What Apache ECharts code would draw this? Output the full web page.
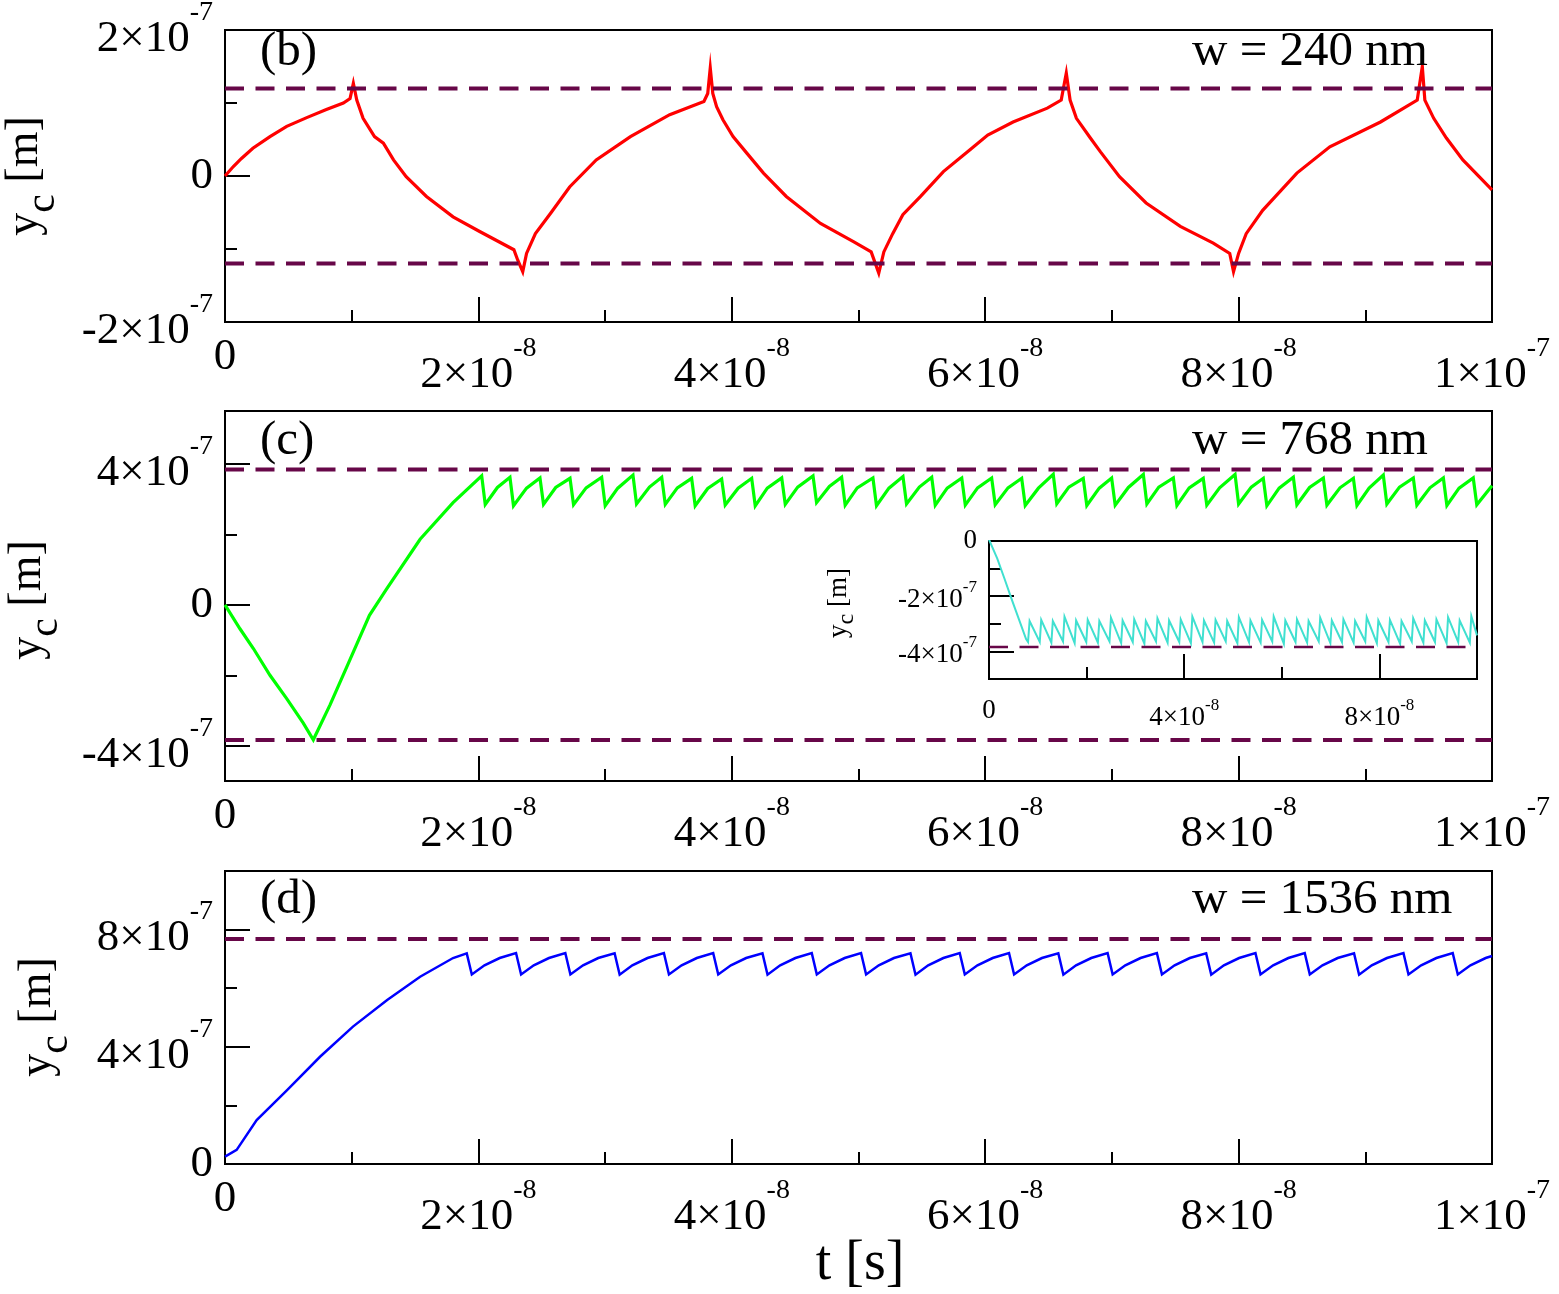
<!DOCTYPE html>
<html><head><meta charset="utf-8">
<script src="https://cdn.jsdelivr.net/npm/echarts@6/dist/echarts.min.js"></script>
<style>html,body{margin:0;padding:0;background:#fff}#c{width:1559px;height:1294px}</style>
</head><body><div id="c"></div>
<script>
// ---- units: time in 1e-8 s, position in 1e-7 m ----
const tRange = [0, 10];

// panel (b) w = 240 nm
const bData = [[0,0],[0.066,0.13],[0.13,0.24],[0.22,0.38],[0.355,0.54],[0.487,0.68],[0.645,0.80],[0.80,0.91],[0.934,1.0],[0.987,1.06],[1.013,1.27],[1.04,1.04],[1.09,0.79],[1.18,0.54],[1.25,0.45],[1.33,0.22],[1.43,-0.01],[1.59,-0.28],[1.80,-0.56],[2.01,-0.76],[2.28,-1.01],[2.31,-1.15],[2.35,-1.31],[2.38,-1.06],[2.45,-0.79],[2.57,-0.51],[2.72,-0.15],[2.93,0.22],[3.20,0.54],[3.51,0.84],[3.78,1.02],[3.81,1.13],[3.83,1.48],[3.85,1.13],[3.88,0.95],[3.93,0.77],[4.01,0.54],[4.12,0.31],[4.25,0.04],[4.43,-0.28],[4.70,-0.65],[4.96,-0.90],[5.10,-1.04],[5.16,-1.33],[5.20,-1.04],[5.27,-0.79],[5.35,-0.53],[5.49,-0.28],[5.67,0.06],[5.88,0.36],[6.02,0.56],[6.22,0.74],[6.49,0.93],[6.60,1.04],[6.64,1.41],[6.67,1.04],[6.72,0.79],[6.83,0.52],[6.91,0.33],[7.06,-0.01],[7.27,-0.37],[7.54,-0.69],[7.80,-0.92],[7.93,-1.06],[7.96,-1.31],[8.00,-1.06],[8.06,-0.79],[8.19,-0.47],[8.46,0.04],[8.72,0.40],[9.12,0.74],[9.41,1.04],[9.45,1.50],[9.47,1.04],[9.54,0.79],[9.64,0.52],[9.77,0.22],[10.0,-0.19]];
const bWalls = [1.2, -1.2];

// panel (c) w = 768 nm
const cData = [[0,0],[0.118,-0.68],[0.224,-1.24],[0.355,-2.0],[0.487,-2.66],[0.618,-3.36],[0.697,-3.83],[0.829,-2.84],[0.97,-1.69],[1.14,-0.30],[1.276,0.45],[1.54,1.86],[1.80,2.90],
[2.026,3.66],[2.054,2.85],[2.15,3.33],
[2.249,3.62],[2.277,2.81],[2.38,3.31],
[2.486,3.60],[2.514,2.85],[2.61,3.33],
[2.723,3.59],[2.751,2.84],[2.85,3.32],
[2.973,3.62],[3.001,2.81],[3.10,3.31],
[3.220,3.68],[3.248,2.86],[3.35,3.34],
[3.447,3.62],[3.475,2.85],[3.57,3.32],
[3.683,3.59],[3.711,2.81],[3.81,3.30],
[3.920,3.57],[3.948,2.83],[4.05,3.31],
[4.157,3.59],[4.185,2.81],[4.28,3.31],
[4.394,3.60],[4.422,2.85],[4.52,3.34],
[4.641,3.66],[4.669,2.90],[4.77,3.36],
[4.867,3.62],[4.895,2.83],[4.99,3.32],
[5.114,3.60],[5.142,2.81],[5.24,3.31],
[5.351,3.64],[5.379,2.86],[5.48,3.34],
[5.578,3.62],[5.606,2.83],[5.70,3.31],
[5.815,3.60],[5.843,2.83],[5.94,3.32],
[6.051,3.60],[6.079,2.84],[6.18,3.32],
[6.288,3.59],[6.316,2.82],[6.42,3.31],
[6.537,3.70],[6.565,2.87],[6.66,3.34],
[6.774,3.59],[6.802,2.82],[6.90,3.31],
[6.998,3.60],[7.026,2.83],[7.13,3.33],
[7.248,3.70],[7.276,2.86],[7.37,3.34],
[7.485,3.60],[7.513,2.82],[7.61,3.32],
[7.721,3.59],[7.749,2.83],[7.85,3.32],
[7.972,3.70],[8.000,2.86],[8.10,3.34],
[8.195,3.59],[8.223,2.81],[8.32,3.31],
[8.432,3.62],[8.460,2.84],[8.56,3.33],
[8.669,3.60],[8.697,2.83],[8.80,3.32],
[8.906,3.59],[8.934,2.82],[9.03,3.31],
[9.142,3.68],[9.170,2.86],[9.27,3.34],
[9.379,3.60],[9.407,2.83],[9.51,3.32],
[9.616,3.60],[9.644,2.82],[9.74,3.31],
[9.852,3.60],[9.880,2.84],[10.0,3.38]];
const cWalls = [3.84, -3.84];

// inset of panel (c)
const insetData = [[0,0.05],[0.168,-0.63],[0.316,-1.36],[0.46,-2.09],[0.61,-2.82],[0.76,-3.55],[0.80,-3.66],
[0.832,-2.90],[1.040,-3.66],[1.070,-2.86],[1.278,-3.68],[1.308,-2.90],[1.517,-3.64],[1.547,-2.74],[1.755,-3.70],
[1.785,-2.88],[1.993,-3.66],[2.023,-2.86],[2.231,-3.68],[2.261,-2.90],[2.469,-3.64],[2.499,-2.78],[2.708,-3.70],
[2.738,-2.88],[2.946,-3.66],[2.976,-2.84],[3.184,-3.72],[3.214,-2.90],[3.422,-3.64],[3.452,-2.80],[3.660,-3.68],
[3.690,-2.88],[3.899,-3.66],[3.929,-2.84],[4.137,-3.70],[4.167,-2.74],[4.375,-3.66],[4.405,-2.88],[4.613,-3.68],
[4.643,-2.86],[4.851,-3.64],[4.881,-2.90],[5.090,-3.70],[5.120,-2.76],[5.328,-3.66],[5.358,-2.88],[5.566,-3.68],
[5.596,-2.86],[5.804,-3.64],[5.834,-2.74],[6.042,-3.72],[6.072,-2.88],[6.281,-3.66],[6.311,-2.84],[6.519,-3.68],
[6.549,-2.90],[6.757,-3.64],[6.787,-2.78],[6.995,-3.70],[7.025,-2.88],[7.233,-3.66],[7.263,-2.84],[7.472,-3.68],
[7.502,-2.90],[7.710,-3.64],[7.740,-2.76],[7.948,-3.70],[7.978,-2.88],[8.186,-3.66],[8.216,-2.86],[8.424,-3.72],
[8.454,-2.90],[8.663,-3.64],[8.693,-2.80],[8.901,-3.68],[8.931,-2.88],[9.139,-3.66],[9.169,-2.84],[9.377,-3.70],
[9.407,-2.76],[9.615,-3.66],[9.645,-2.88],[9.853,-3.68],[9.883,-2.72],[10.0,-3.42]];
const insetWalls = [-3.84];

// panel (d) w = 1536 nm
const dData = [[0,0.25],[0.092,0.48],[0.25,1.5],[0.49,2.52],[0.75,3.66],[1.01,4.69],[1.28,5.6],[1.54,6.39],[1.80,7.03],
[1.908,7.19],[1.948,6.47],[2.048,6.78],[2.168,7.03],
[2.297,7.20],[2.337,6.47],[2.437,6.78],[2.557,7.03],
[2.686,7.20],[2.726,6.47],[2.826,6.78],[2.946,7.03],
[3.075,7.19],[3.115,6.46],[3.215,6.78],[3.335,7.03],
[3.464,7.20],[3.504,6.47],[3.604,6.78],[3.724,7.03],
[3.853,7.20],[3.893,6.47],[3.993,6.78],[4.113,7.03],
[4.242,7.19],[4.282,6.46],[4.382,6.78],[4.502,7.03],
[4.631,7.20],[4.671,6.47],[4.771,6.78],[4.891,7.03],
[5.020,7.20],[5.060,6.47],[5.160,6.78],[5.280,7.03],
[5.410,7.19],[5.450,6.46],[5.550,6.78],[5.670,7.03],
[5.799,7.20],[5.839,6.47],[5.939,6.78],[6.059,7.03],
[6.188,7.20],[6.228,6.47],[6.328,6.78],[6.448,7.03],
[6.577,7.19],[6.617,6.46],[6.717,6.78],[6.837,7.03],
[6.966,7.20],[7.006,6.47],[7.106,6.78],[7.226,7.03],
[7.355,7.20],[7.395,6.47],[7.495,6.78],[7.615,7.03],
[7.744,7.19],[7.784,6.46],[7.884,6.78],[8.004,7.03],
[8.133,7.20],[8.173,6.47],[8.273,6.78],[8.393,7.03],
[8.522,7.20],[8.562,6.47],[8.662,6.78],[8.782,7.03],
[8.911,7.19],[8.951,6.46],[9.051,6.78],[9.171,7.03],
[9.301,7.20],[9.341,6.47],[9.441,6.78],[9.561,7.03],
[9.690,7.20],[9.730,6.47],[9.830,6.78],[9.950,7.03],[10.0,7.10]];
const dWalls = [7.68];

// ticks and tick labels
const xMajor = [0, 2, 4, 6, 8, 10];
const xMinor = [1, 3, 5, 7, 9];
const xMant = ['0', '2×10', '4×10', '6×10', '8×10', '1×10'];
const xExp  = ['', '-8', '-8', '-8', '-8', '-7'];

const bYMajor = [-2, 0, 2], bYMinor = [-1, 1];
const bYMant = ['-2×10', '0', '2×10'], bYExp = ['-7', '', '-7'];
const cYMajor = [-4, 0, 4], cYMinor = [-2, 2];
const cYMant = ['-4×10', '0', '4×10'], cYExp = ['-7', '', '-7'];
const dYMajor = [0, 4, 8], dYMinor = [2, 6, 10];
const dYMant = ['0', '4×10', '8×10'], dYExp = ['', '-7', '-7'];

const inXMajor = [0, 4, 8], inXMinor = [2, 6];
const inXMant = ['0', '4×10', '8×10'], inXExp = ['', '-8', '-8'];
const inYMajor = [-4, -2, 0], inYMinor = [-3, -1];
const inYMant = ['-4×10', '-2×10', '0'], inYExp = ['-7', '-7', ''];

const yRanges = { b: [-2, 2], c: [-5, 5.5], d: [0, 10], inset: [-5, 0] };

const panelTags = ['(b)', '(c)', '(d)'];
const widthTexts = ['w = 240 nm', 'w = 768 nm', 'w = 1536 nm'];

// ---- styling ----
const FONT = '"Liberation Serif", "Times New Roman", Times, serif';
const WALL = 'rgb(103,7,72)';

function richSet(big, small, pad) {
  return {
    z: { fontSize: big, fontFamily: FONT, color: '#000' },
    m: { fontSize: big, fontFamily: FONT, color: '#000', padding: [pad, 0, 0, 0], verticalAlign: 'bottom' },
    e: { fontSize: small, fontFamily: FONT, color: '#000', verticalAlign: 'top' }
  };
}
const mainRich = richSet(45, 28, 18);
const insetRich = richSet(27, 17, 7);

function fmt(vals, mant, exp) {
  return function (v) {
    const i = vals.findIndex(x => Math.abs(x - v) < 1e-6);
    if (i < 0) return '';
    return exp[i] ? '{m|' + mant[i] + '}{e|' + exp[i] + '}' : '{z|' + mant[i] + '}';
  };
}

function axisPair(kind, grid, range, major, minor, mant, exp, rich, margin) {
  const base = {
    type: 'value', gridIndex: grid, min: range[0], max: range[1],
    position: kind === 'x' ? 'bottom' : 'left',
    axisLine: { show: false, onZero: false }, splitLine: { show: false }, minorTick: { show: false }
  };
  return [
    Object.assign({}, base, {
      axisTick: { show: true, inside: true, length: 25, customValues: major, lineStyle: { color: '#000', width: 2 } },
      axisLabel: { show: true, customValues: major, margin: margin, formatter: fmt(major, mant, exp), rich: rich, color: '#000', fontFamily: FONT, showMinLabel: true, showMaxLabel: true }
    }),
    Object.assign({}, base, {
      axisTick: { show: true, inside: true, length: 12, customValues: minor, lineStyle: { color: '#000', width: 2 } },
      axisLabel: { show: false }
    })
  ];
}

const grids = [
  { left: 225, top: 30, width: 1267, height: 292 },
  { left: 225, top: 411, width: 1267, height: 370 },
  { left: 225, top: 871, width: 1267, height: 293 },
  { left: 989, top: 541, width: 488, height: 138 }
].map(g => Object.assign(g, { show: true, borderColor: '#000', borderWidth: 2, backgroundColor: '#fff', containLabel: false, outerBoundsMode: 'none' }));

const xAxes = [].concat(
  axisPair('x', 0, tRange, xMajor, xMinor, xMant, xExp, mainRich, 13),
  axisPair('x', 1, tRange, xMajor, xMinor, xMant, xExp, mainRich, 13),
  axisPair('x', 2, tRange, xMajor, xMinor, xMant, xExp, mainRich, 13),
  axisPair('x', 3, tRange, inXMajor, inXMinor, inXMant, inXExp, insetRich, 18)
);
const yAxes = [].concat(
  axisPair('y', 0, yRanges.b, bYMajor, bYMinor, bYMant, bYExp, mainRich, 12),
  axisPair('y', 1, yRanges.c, cYMajor, cYMinor, cYMant, cYExp, mainRich, 12),
  axisPair('y', 2, yRanges.d, dYMajor, dYMinor, dYMant, dYExp, mainRich, 12),
  axisPair('y', 3, yRanges.inset, inYMajor, inYMinor, inYMant, inYExp, insetRich, 12)
);

function curve(idx, data, color, width) {
  return { type: 'line', xAxisIndex: idx * 2, yAxisIndex: idx * 2, data: data, showSymbol: false, symbol: 'none',
    lineStyle: { color: color, width: width, join: 'miter', miterLimit: 30 }, z: 3, silent: true };
}
function walls(idx, levels, width) {
  return levels.map(w => ({ type: 'line', xAxisIndex: idx * 2, yAxisIndex: idx * 2,
    data: tRange.map(t => [t, w]), showSymbol: false, symbol: 'none', silent: true, z: 4,
    lineStyle: { color: WALL, width: width, type: [19, 11.5], cap: 'butt' } }));
}

const series = [
  curve(0, bData, '#ff0000', 3.2),
  curve(1, cData, '#00ff00', 3.2),
  curve(2, dData, '#0000ff', 2.5),
  curve(3, insetData, 'rgb(64,224,208)', 2)
].concat(walls(0, bWalls, 4), walls(1, cWalls, 4), walls(2, dWalls, 4), walls(3, insetWalls, 2.5));

function txt(x, y, text, size, align) {
  return { type: 'text', x: x, y: y, silent: true, z: 10,
    style: { text: text, fontSize: size, fontFamily: FONT, fill: '#000', align: align, textAlign: align, verticalAlign: 'middle', textVerticalAlign: 'middle' } };
}
function yTitle(x, y, size, sub, pad) {
  return { type: 'text', x: x, y: y, rotation: Math.PI / 2, silent: true, z: 10,
    style: { text: '{a|y}{s|c}{a| [m]}', fill: '#000', align: 'center', textAlign: 'center', verticalAlign: 'middle', textVerticalAlign: 'middle',
      fontFamily: FONT, fontSize: size,
      rich: {
        a: { fontSize: size, fontFamily: FONT, fill: '#000', verticalAlign: 'top' },
        s: { fontSize: sub, fontFamily: FONT, fill: '#000', verticalAlign: 'bottom', padding: [pad, 0, 0, 0] }
      } } };
}

const tagY = [52, 441, 900];
const graphics = [];
panelTags.forEach((t, i) => graphics.push(txt(260, tagY[i], t, 49, 'left')));
widthTexts.forEach((t, i) => graphics.push(txt(1192, tagY[i], t, 49, 'left')));
graphics.push(txt(860, 1264, 't [s]', 56, 'center'));
graphics.push(yTitle(33, 176, 46, 42, 20));
graphics.push(yTitle(36, 600, 46, 42, 20));
graphics.push(yTitle(46, 1017, 46, 42, 20));
graphics.push(yTitle(842, 603, 27, 24, 10));

const chart = echarts.init(document.getElementById('c'), null, { renderer: 'canvas' });
chart.setOption({
  animation: false,
  backgroundColor: '#fff',
  textStyle: { fontFamily: FONT },
  grid: grids,
  xAxis: xAxes,
  yAxis: yAxes,
  series: series,
  graphic: { elements: graphics }
});
</script></body></html>
